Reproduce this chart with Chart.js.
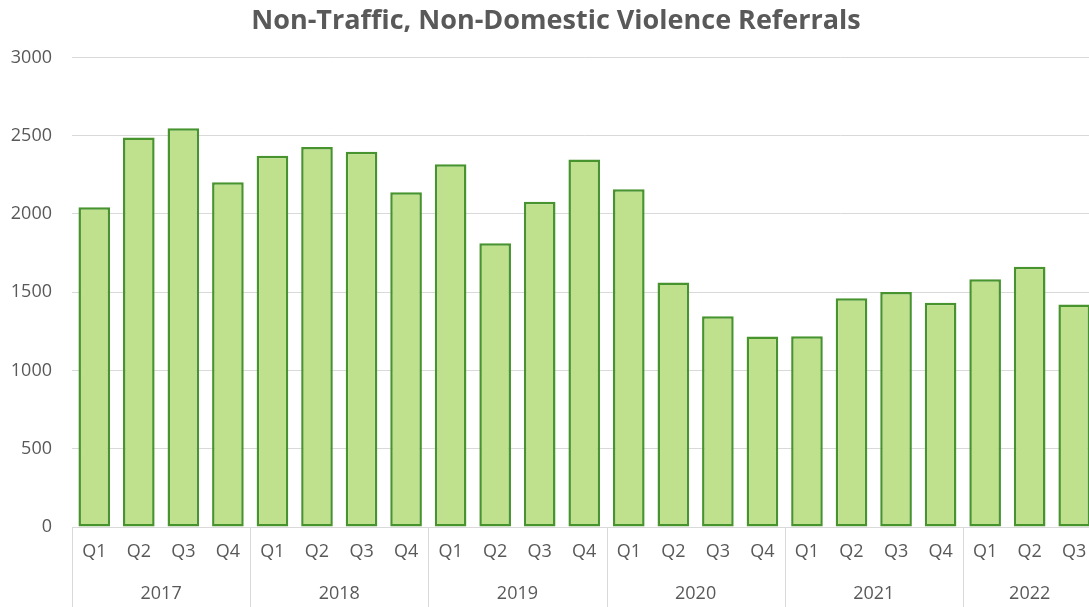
<!DOCTYPE html>
<html>
<head>
<meta charset="utf-8">
<script src="https://cdn.jsdelivr.net/npm/chart.js@4/dist/chart.umd.min.js"></script>
<style>
  html, body { margin: 0; padding: 0; background: #fff; overflow: hidden; }
  #wrap { position: absolute; left: 0; top: 0; width: 1112px; height: 607px; }
</style>
</head>
<body>
<div id="wrap"><canvas id="c" width="1112" height="607"></canvas></div>
<script>
const years = ['2017', '2018', '2019', '2020', '2021', '2022'];
const quartersPerYear = [4, 4, 4, 4, 4, 3];
const quarterLabels = ['Q1','Q2','Q3','Q4','Q1','Q2','Q3','Q4','Q1','Q2','Q3','Q4','Q1','Q2','Q3','Q4','Q1','Q2','Q3','Q4','Q1','Q2','Q3'];
const referrals = [2042, 2488, 2548, 2203, 2372, 2428, 2398, 2138, 2318, 1812, 2078, 2348, 2158, 1562, 1347, 1217, 1219, 1462, 1502, 1432, 1582, 1662, 1422];
const yTicks = [0, 500, 1000, 1500, 2000, 2500, 3000];

const FONT = '"Open Sans", "DejaVu Sans", sans-serif';
const TEXT = '#595959';
const LINE = '#d9d9d9';

const yearAxisPlugin = {
  id: 'yearAxis',
  afterDraw(chart) {
    const ctx = chart.ctx;
    const x = chart.scales.x;
    const area = chart.chartArea;
    const half = (x.getPixelForValue(1) - x.getPixelForValue(0)) / 2;
    ctx.save();
    ctx.strokeStyle = LINE;
    ctx.lineWidth = 1;
    ctx.fillStyle = TEXT;
    ctx.font = '18px ' + FONT;
    ctx.textAlign = 'center';
    ctx.textBaseline = 'middle';
    let idx = 0;
    const bottom = chart.height;
    for (let g = 0; g < years.length; g++) {
      const first = idx;
      const last = idx + quartersPerYear[g] - 1;
      const left = x.getPixelForValue(first) - half;
      const right = x.getPixelForValue(last) + half;
      const lx = Math.round(left) + 0.5;
      ctx.beginPath();
      ctx.moveTo(lx, area.bottom);
      ctx.lineTo(lx, bottom);
      ctx.stroke();
      ctx.fillText(years[g], (left + right) / 2, 594);
      idx = last + 1;
    }
    ctx.restore();
  }
};

new Chart(document.getElementById('c'), {
  type: 'bar',
  data: {
    labels: quarterLabels,
    datasets: [{
      data: referrals,
      backgroundColor: '#BFE08C',
      borderColor: '#47942F',
      borderWidth: 2.5,
      borderSkipped: false,
      barPercentage: 0.71,
      categoryPercentage: 1
    }]
  },
  options: {
    responsive: false,
    animation: false,
    layout: { padding: 0 },
    plugins: {
      legend: { display: false },
      tooltip: { enabled: false },
      title: {
        display: true,
        text: 'Non-Traffic, Non-Domestic Violence Referrals',
        color: TEXT,
        font: { family: FONT, size: 27, weight: 'bold' },
        padding: { top: 5, bottom: 20 }
      }
    },
    scales: {
      x: {
        grid: { display: false, drawTicks: false },
        border: { display: true, color: LINE, width: 1 },
        ticks: { color: TEXT, font: { family: FONT, size: 18 }, padding: 14, maxRotation: 0, autoSkip: false },
        afterFit(scale) { scale.height = 80; }
      },
      y: {
        min: 0,
        max: 3000,
        afterBuildTicks(scale) { scale.ticks = yTicks.map(v => ({ value: v })); },
        grid: { color: LINE, drawTicks: false, lineWidth: 1 },
        border: { display: false },
        ticks: { color: TEXT, font: { family: FONT, size: 18 }, padding: 20, callback: v => String(v) },
        afterFit(scale) { scale.width = 72; }
      },
      yRight: {
        position: 'right',
        display: true,
        grid: { display: false, drawTicks: false },
        border: { display: false },
        ticks: { display: false },
        afterFit(scale) { scale.width = 15.5; }
      }
    }
  },
  plugins: [yearAxisPlugin]
});
</script>
</body>
</html>
